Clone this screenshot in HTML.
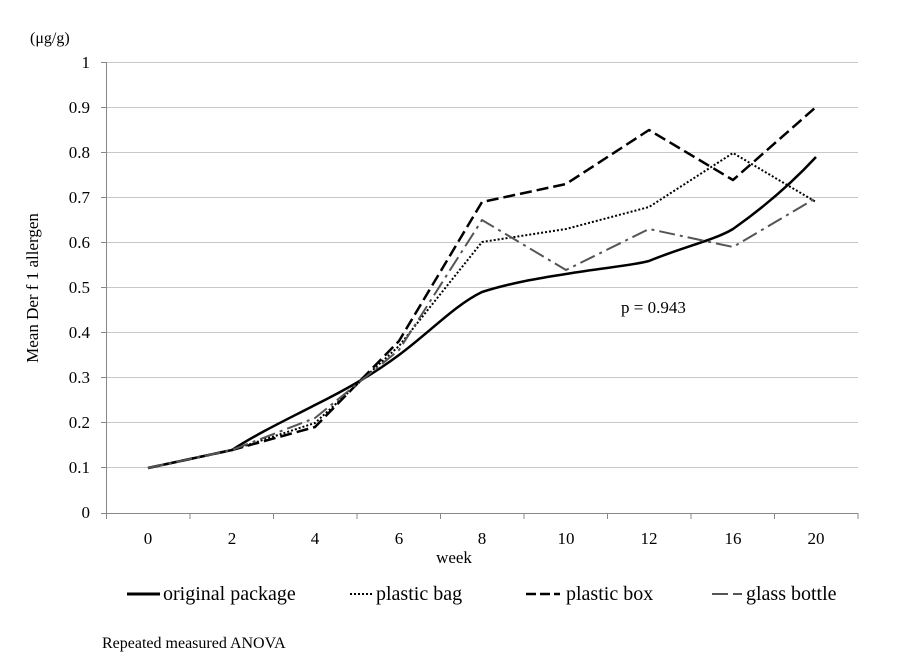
<!DOCTYPE html>
<html><head><style>body{margin:0;background:#fff}svg{display:block}text{font-family:"Liberation Serif",serif;fill:#000}</style></head><body>
<svg width="917" height="663" viewBox="0 0 917 663" xmlns="http://www.w3.org/2000/svg">
<g stroke="#c8c8c8" stroke-width="1">
<line x1="106" x2="858" y1="62.5" y2="62.5"/><line x1="106" x2="858" y1="107.5" y2="107.5"/><line x1="106" x2="858" y1="152.5" y2="152.5"/><line x1="106" x2="858" y1="197.5" y2="197.5"/><line x1="106" x2="858" y1="242.5" y2="242.5"/><line x1="106" x2="858" y1="287.5" y2="287.5"/><line x1="106" x2="858" y1="332.5" y2="332.5"/><line x1="106" x2="858" y1="377.5" y2="377.5"/><line x1="106" x2="858" y1="422.5" y2="422.5"/><line x1="106" x2="858" y1="467.5" y2="467.5"/>
</g>
<g stroke="#888" stroke-width="1">
<line x1="106.5" x2="106.5" y1="62" y2="513"/><line x1="101" x2="858" y1="513.5" y2="513.5"/>
<line x1="101" x2="106" y1="62.5" y2="62.5"/><line x1="101" x2="106" y1="107.5" y2="107.5"/><line x1="101" x2="106" y1="152.5" y2="152.5"/><line x1="101" x2="106" y1="197.5" y2="197.5"/><line x1="101" x2="106" y1="242.5" y2="242.5"/><line x1="101" x2="106" y1="287.5" y2="287.5"/><line x1="101" x2="106" y1="332.5" y2="332.5"/><line x1="101" x2="106" y1="377.5" y2="377.5"/><line x1="101" x2="106" y1="422.5" y2="422.5"/><line x1="101" x2="106" y1="467.5" y2="467.5"/>
<line x1="106.5" x2="106.5" y1="513" y2="519"/><line x1="190" x2="190" y1="513" y2="519"/><line x1="273.5" x2="273.5" y1="513" y2="519"/><line x1="357" x2="357" y1="513" y2="519"/><line x1="440.5" x2="440.5" y1="513" y2="519"/><line x1="524" x2="524" y1="513" y2="519"/><line x1="607.5" x2="607.5" y1="513" y2="519"/><line x1="691" x2="691" y1="513" y2="519"/><line x1="774.5" x2="774.5" y1="513" y2="519"/><line x1="858" x2="858" y1="513" y2="519"/>
</g>
<g font-size="17" text-anchor="end">
<text x="90" y="68">1</text><text x="90" y="113">0.9</text><text x="90" y="158">0.8</text><text x="90" y="203">0.7</text><text x="90" y="248">0.6</text><text x="90" y="293">0.5</text><text x="90" y="338">0.4</text><text x="90" y="383">0.3</text><text x="90" y="428">0.2</text><text x="90" y="473">0.1</text><text x="90" y="518">0</text>
</g>
<g font-size="17" text-anchor="middle">
<text x="148" y="544">0</text><text x="232" y="544">2</text><text x="315" y="544">4</text><text x="399" y="544">6</text><text x="482" y="544">8</text><text x="566" y="544">10</text><text x="649" y="544">12</text><text x="733" y="544">16</text><text x="816" y="544">20</text>
<text x="454" y="563">week</text>
</g>
<text x="30" y="43" font-size="16">(μg/g)</text>
<text font-size="17" text-anchor="middle" transform="translate(38,288) rotate(-90)">Mean Der f 1 allergen</text>
<text x="621" y="313" font-size="17">p = 0.943</text>
<g fill="none" stroke-linejoin="round">
<path stroke="#000" stroke-width="2.5" d="M148,468 L232,450 C260,432 290,418 315,405 C345,390 372,375 399,355 C430,332 455,305 482,292 C510,283 540,278 566,274 C600,268 630,266 649,261 C680,248 715,240 733,229 C760,210 790,185 816,157"/>
<polyline stroke="#000" stroke-width="2" stroke-dasharray="2,2" points="148,468 232,450 315,423 399,346 482,242 566,229 649,207 733,153 816,202"/>
<polyline stroke="#000" stroke-width="2.5" stroke-dasharray="12,5" points="148,468 232,450 315,427 399,341 482,202 566,184 649,130 733,180 816,107"/>
<polyline stroke="#555" stroke-width="2" stroke-dasharray="16,5,3,5" points="148,468 232,450 315,418 399,350 482,220 566,270 649,229 733,247 816,198"/>
</g>
<g stroke="#000" fill="none">
<line x1="127" x2="160" y1="594" y2="594" stroke-width="3"/>
<line x1="350" x2="373" y1="594" y2="594" stroke-width="2" stroke-dasharray="2,2"/>
<line x1="526" x2="560" y1="594" y2="594" stroke-width="2.5" stroke-dasharray="10,4"/>
<line x1="712" x2="742" y1="594" y2="594" stroke="#555" stroke-width="2" stroke-dasharray="16,5"/>
</g>
<g font-size="20">
<text x="163" y="600">original package</text>
<text x="376" y="600">plastic bag</text>
<text x="566" y="600">plastic box</text>
<text x="746" y="600">glass bottle</text>
</g>
<text x="102" y="648" font-size="16">Repeated measured ANOVA</text>
</svg>
</body></html>
